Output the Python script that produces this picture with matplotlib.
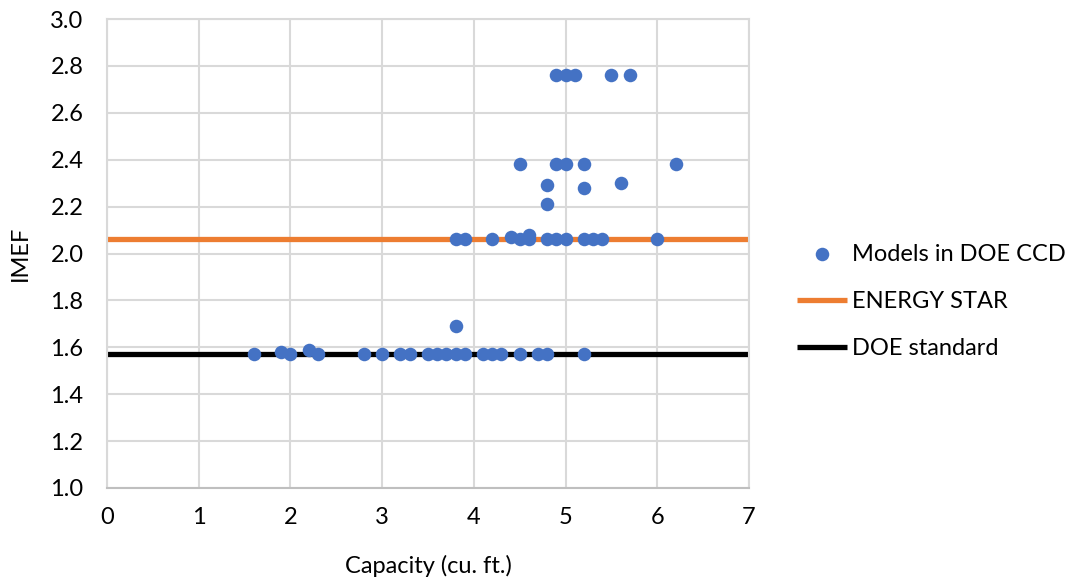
import matplotlib
matplotlib.use("Agg")
import matplotlib.pyplot as plt

# Data
capacity = [1.6, 2.0, 2.3, 2.8, 3.0, 3.2, 3.3, 3.5, 3.6, 3.7, 3.8, 3.9, 4.1, 4.2, 4.3, 4.5, 4.7, 4.8, 5.2,
            1.9, 2.2, 3.8,
            3.8, 3.9, 4.2, 4.5, 4.6, 4.8, 4.9, 5.0, 5.2, 5.3, 5.4, 6.0,
            4.4, 4.6,
            4.8, 4.8, 5.2, 5.6, 4.5, 4.9, 5.0, 5.2, 6.2,
            4.9, 5.0, 5.1, 5.5, 5.7]
imef = [1.57, 1.57, 1.57, 1.57, 1.57, 1.57, 1.57, 1.57, 1.57, 1.57, 1.57, 1.57, 1.57, 1.57, 1.57, 1.57, 1.57, 1.57, 1.57,
        1.58, 1.59, 1.69,
        2.06, 2.06, 2.06, 2.06, 2.06, 2.06, 2.06, 2.06, 2.06, 2.06, 2.06, 2.06,
        2.07, 2.08,
        2.21, 2.29, 2.28, 2.30, 2.38, 2.38, 2.38, 2.38, 2.38,
        2.76, 2.76, 2.76, 2.76, 2.76]
energy_star = 2.06
doe_standard = 1.57
series_labels = ["Models in DOE CCD", "ENERGY STAR", "DOE standard"]
x_ticks = [0, 1, 2, 3, 4, 5, 6, 7]
y_ticks = [1.0, 1.2, 1.4, 1.6, 1.8, 2.0, 2.2, 2.4, 2.6, 2.8, 3.0]

plt.rcParams['font.family'] = ['Lato', 'DejaVu Sans']
FS = 17

fig = plt.figure(figsize=(10.78, 5.86), dpi=100)
ax = fig.add_axes([107/1078, 1 - 488/586, (749 - 107)/1078, (488 - 19)/586])

blue = '#4472C4'
orange = '#ED7D31'

ax.axhline(energy_star, color=orange, lw=3.8, zorder=2, label=series_labels[1], solid_capstyle='butt')
ax.axhline(doe_standard, color='black', lw=3.8, zorder=2, label=series_labels[2], solid_capstyle='butt')
ax.scatter(capacity, imef, s=95, color=blue, zorder=3, label=series_labels[0], linewidths=0)

ax.set_xlim(0, 7)
ax.set_ylim(1.0, 3.0)
ax.set_xticks(x_ticks)
ax.set_yticks(y_ticks)
ax.set_xticklabels([str(v) for v in x_ticks])
ax.set_yticklabels([f"{v:.1f}" for v in y_ticks])
ax.tick_params(length=0, labelsize=FS, colors='black')
ax.tick_params(axis='y', pad=17)
ax.tick_params(axis='x', pad=14)
ax.grid(True, color='#D9D9D9', lw=1.5, zorder=0)
ax.set_axisbelow(True)
for side in ['top', 'right', 'left']:
    ax.spines[side].set_color('#D9D9D9')
    ax.spines[side].set_linewidth(1.5)
ax.spines['bottom'].set_color('#BFBFBF')
ax.spines['bottom'].set_linewidth(1.5)

ax.set_xlabel("Capacity (cu. ft.)", fontsize=FS, labelpad=19)
ax.set_ylabel("IMEF", fontsize=FS, labelpad=14)

handles, labels = ax.get_legend_handles_labels()
order = [labels.index(l) for l in series_labels]
leg = fig.legend([handles[i] for i in order], [labels[i] for i in order],
                 loc='center left', bbox_to_anchor=(797/1078, 1 - 301.5/586),
                 frameon=False, fontsize=FS, handlelength=2.1, handletextpad=0.25,
                 labelspacing=1.12, borderpad=0, borderaxespad=0, scatterpoints=1)

fig.savefig("out.png", dpi=100)
